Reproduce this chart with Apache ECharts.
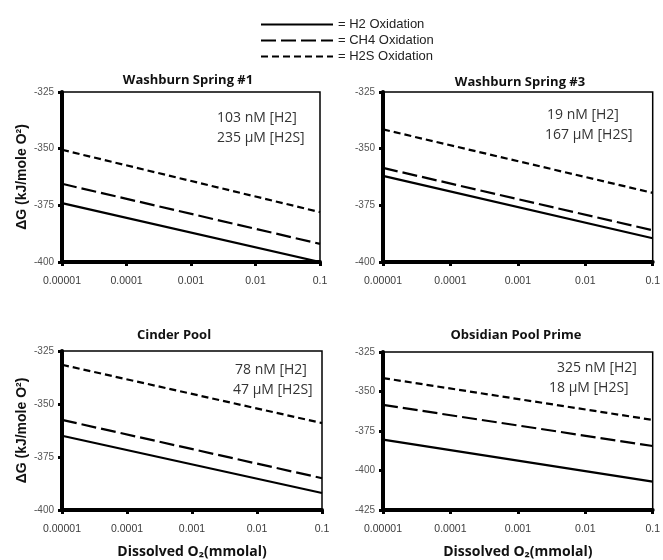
<!DOCTYPE html>
<html>
<head>
<meta charset="utf-8">
<script src="https://cdn.jsdelivr.net/npm/echarts@6/dist/echarts.min.js"></script>
<style>
html,body{margin:0;padding:0;background:#fff;}
#chart{width:663px;height:560px;}
</style>
</head>
<body>
<div id="chart"></div>
<script>
// ---- data ----
const panelTitles = ['Washburn Spring #1', 'Washburn Spring #3', 'Cinder Pool', 'Obsidian Pool Prime'];
const seriesNames = ['H2 Oxidation', 'CH4 Oxidation', 'H2S Oxidation'];
const o2Values = [0.00001, 0.1];               // dissolved O2 (mmolal), endpoints of each line
const xTickLabels = ['0.00001', '0.0001', '0.001', '0.01', '0.1'];

// ΔG (kJ/mole O2) at O2 = 0.00001 and 0.1
const ws1_H2  = [-374, -400];
const ws1_CH4 = [-365.5, -392];
const ws1_H2S = [-350.5, -378];

const ws3_H2  = [-362, -389.5];
const ws3_CH4 = [-358.5, -386];
const ws3_H2S = [-341.5, -369.5];

const cp_H2  = [-365, -392];
const cp_CH4 = [-357.5, -385];
const cp_H2S = [-331.5, -359];

const opp_H2  = [-380.5, -407];
const opp_CH4 = [-358.5, -384.5];
const opp_H2S = [-341.5, -368];

const yMins = [-400, -400, -400, -425];
const yMaxs = [-325, -325, -325, -325];
const yInterval = 25;

const h2Labels  = ['103 nM [H2]', '19 nM [H2]', '78 nM [H2]', '325 nM [H2]'];
const h2sLabels = ['235 µM [H2S]', '167 µM [H2S]', '47 µM [H2S]', '18 µM [H2S]'];

// ---- layout ----
const grids = [
  {left: 62,  top: 92,  width: 258, height: 170},
  {left: 383, top: 92,  width: 270, height: 170},
  {left: 62,  top: 351, width: 260, height: 160},
  {left: 383, top: 352, width: 272, height: 160}
];
const titlePos = [[188, 80], [520, 82], [174, 335], [516, 335]];
const annoPos = [
  [[217, 118], [217, 138]],
  [[547, 115], [545, 135]],
  [[235, 370], [233, 390]],
  [[557, 368], [549, 388]]
];
const lineTypes = ['solid', [15, 5], [7, 4]];
const panelData = [
  [ws1_H2, ws1_CH4, ws1_H2S],
  [ws3_H2, ws3_CH4, ws3_H2S],
  [cp_H2, cp_CH4, cp_H2S],
  [opp_H2, opp_CH4, opp_H2S]
];

const chart = echarts.init(document.getElementById('chart'), null, {renderer: 'canvas'});

const grid = grids.map(g => Object.assign({
  show: true, borderColor: '#000', borderWidth: 1.5, backgroundColor: 'transparent'
}, g));

const xAxis = grids.map((g, i) => ({
  type: 'log', logBase: 10, gridIndex: i,
  min: o2Values[0], max: o2Values[1],
  splitLine: {show: false}, minorTick: {show: false}, minorSplitLine: {show: false},
  axisLine: {onZero: false, lineStyle: {color: '#000', width: 4}},
  axisTick: {show: true, inside: false, length: 4, lineStyle: {color: '#000', width: 3}},
  axisLabel: {
    margin: 14, color: '#3a3a3a', fontFamily: 'Liberation Sans', fontSize: 10.5,
    formatter: v => xTickLabels[Math.round(Math.log10(v)) + 5]
  },
  name: i >= 2 ? 'Dissolved O₂(mmolal)' : '',
  nameLocation: 'middle', nameGap: 35,
  nameTextStyle: {fontFamily: 'Open Sans', fontWeight: 'bold', fontSize: 14, color: '#111'}
}));

const yAxis = grids.map((g, i) => ({
  type: 'value', gridIndex: i,
  min: yMins[i], max: yMaxs[i], interval: yInterval,
  splitLine: {show: false},
  axisLine: {show: true, onZero: false, lineStyle: {color: '#000', width: 4}},
  axisTick: {show: true, inside: false, length: 4, lineStyle: {color: '#000', width: 3}},
  axisLabel: {margin: 8, color: '#555', fontFamily: 'Liberation Sans', fontSize: 10},
  name: (i % 2 === 0) ? 'ΔG (kJ/mole O²)' : '',
  nameLocation: 'middle', nameGap: 33, nameRotate: 90,
  nameTextStyle: {fontFamily: 'Liberation Sans', fontWeight: 'bold', fontSize: 14, color: '#111'}
}));

const series = [];
panelData.forEach((arrs, p) => {
  arrs.forEach((vals, s) => {
    series.push({
      type: 'line', name: seriesNames[s],
      xAxisIndex: p, yAxisIndex: p,
      data: o2Values.map((x, k) => [x, vals[k]]),
      symbol: 'none', silent: true,
      lineStyle: {color: '#000', width: 2.2, type: lineTypes[s]},
      itemStyle: {color: '#000'}
    });
  });
});

const graphic = [];
panelTitles.forEach((t, i) => {
  graphic.push({
    type: 'text', x: titlePos[i][0], y: titlePos[i][1], silent: true,
    style: {text: t, fill: '#111', font: 'bold 13px "Open Sans"', verticalAlign: 'middle', align: 'center'}
  });
});
annoPos.forEach((pp, i) => {
  [h2Labels[i], h2sLabels[i]].forEach((txt, r) => {
    graphic.push({
      type: 'text', x: pp[r][0], y: pp[r][1], silent: true,
      style: {text: txt, fill: '#333', font: '14px "Open Sans"', verticalAlign: 'middle', align: 'left'}
    });
  });
});

chart.setOption({
  animation: false,
  backgroundColor: '#fff',
  legend: {
    data: seriesNames, orient: 'vertical', left: 255, top: 13,
    itemWidth: 72, itemHeight: 12, itemGap: 3, selectedMode: false,
    itemStyle: {color: 'rgba(0,0,0,0)', borderWidth: 0, opacity: 0},
    formatter: n => '= ' + n,
    textStyle: {fontFamily: 'Liberation Sans', fontSize: 13, color: '#222'}
  },
  grid: grid, xAxis: xAxis, yAxis: yAxis, series: series, graphic: graphic
});
</script>
</body>
</html>
